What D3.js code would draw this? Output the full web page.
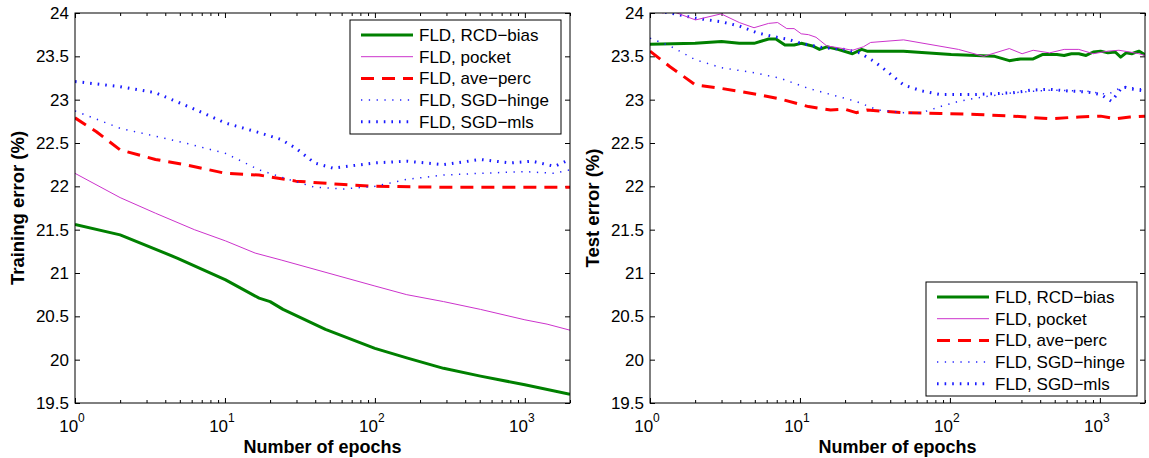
<!DOCTYPE html>
<html lang="en">
<head>
<meta charset="utf-8">
<title>FLD error vs epochs</title>
<script src="https://cdn.jsdelivr.net/npm/d3@7"></script>
<style>
  body { margin: 0; background: #fff; }
  text { font-family: "Liberation Sans", Arial, Helvetica, sans-serif; fill: #000; }
</style>
</head>
<body>
<script>
var W = 1149, H = 458;

// series names shown in the legends
var seriesNames = ["FLD, RCD\u2212bias", "FLD, pocket", "FLD, ave\u2212perc", "FLD, SGD\u2212hinge", "FLD, SGD\u2212mls"];

// axis ticks
var yTicks = [19.5, 20, 20.5, 21, 21.5, 22, 22.5, 23, 23.5, 24];
var xDecades = [1, 10, 100, 1000];

// training error, [epochs, %]
var trainRcdBias = [[1,21.56],[2,21.44],[4.84,21.17],[10.1,20.92],[16.9,20.71],[20,20.67],[24.4,20.58],[46.8,20.35],[100,20.13],[163,20.02],[287,19.9],[506,19.81],[1000,19.71],[2000,19.6]];
var trainPocket = [[1,22.15],[2,21.87],[3.44,21.69],[6.25,21.5],[10.1,21.37],[15.9,21.23],[23.7,21.15],[100,20.85],[163,20.75],[287,20.67],[506,20.58],[1000,20.46],[1406,20.41],[2000,20.34]];
var trainAvePerc = [[1,22.79],[1.39,22.63],[2,22.42],[3.44,22.31],[5.42,22.25],[10.1,22.15],[16.9,22.13],[29.7,22.06],[62,22.02],[100,22.0],[287,21.99],[1000,21.99],[2000,21.99]];
var trainSgdHinge = [[1,22.87],[2,22.67],[5.42,22.5],[10.1,22.38],[16.9,22.19],[26.5,22.08],[39.5,21.99],[62,21.97],[100,22.0],[163,22.08],[287,22.13],[506,22.15],[1000,22.17],[1574,22.15],[2000,22.19]];
var trainSgdMls = [[1,23.21],[2,23.15],[3.44,23.08],[6.07,22.9],[10.1,22.73],[16.9,22.62],[23.7,22.54],[29.7,22.44],[39.5,22.27],[52.4,22.21],[100,22.27],[163,22.29],[287,22.25],[506,22.31],[796,22.27],[1120,22.29],[1574,22.23],[2000,22.31]];

// test error, [epochs, %]
var testRcdBias = [[1,23.64],[2,23.65],[3,23.67],[3.94,23.65],[4.94,23.65],[6.18,23.7],[6.91,23.7],[7.94,23.63],[9.14,23.63],[10.2,23.65],[12.1,23.62],[13.5,23.58],[15.1,23.61],[17.9,23.58],[22.4,23.53],[25.8,23.58],[28,23.56],[49,23.56],[102,23.52],[199,23.5],[249,23.45],[295,23.47],[359,23.47],[413,23.52],[517,23.52],[578,23.51],[646,23.53],[723,23.53],[809,23.51],[904,23.55],[1012,23.56],[1132,23.54],[1266,23.55],[1377,23.49],[1497,23.54],[1630,23.53],[1821,23.56],[2000,23.52]];
var testPocket = [[1,24.06],[1.22,24.0],[1.36,24.03],[2.01,23.92],[2.98,23.99],[3.94,23.89],[4.94,23.83],[6.18,23.88],[7.1,23.89],[8.17,23.82],[9.14,23.82],[10.2,23.76],[11.4,23.75],[12.8,23.72],[15.1,23.62],[17.9,23.6],[22.4,23.57],[26.5,23.61],[29.6,23.66],[49.1,23.69],[114,23.58],[168,23.5],[249,23.59],[303,23.53],[359,23.57],[462,23.54],[578,23.58],[723,23.58],[904,23.53],[1132,23.56],[1339,23.57],[1585,23.55],[1821,23.53],[2000,23.51]];
var testAvePerc = [[1,23.56],[1.36,23.38],[2.01,23.17],[2.98,23.13],[5.22,23.06],[7.31,23.01],[11.4,22.92],[16,22.88],[20,22.89],[23.7,22.85],[28,22.88],[49.1,22.85],[86,22.84],[151,22.83],[264,22.81],[462,22.78],[723,22.8],[1012,22.81],[1266,22.78],[1585,22.8],[2000,22.81]];
var testSgdHinge = [[1,23.71],[1.36,23.62],[2.01,23.46],[2.98,23.37],[4.94,23.31],[7.31,23.25],[11.4,23.13],[16,23.06],[23.7,22.98],[33.2,22.88],[49.1,22.85],[65,22.85],[86,22.92],[114,22.98],[151,23.02],[264,23.08],[462,23.11],[809,23.1],[1132,23.06],[1416,23.15],[2000,23.12]];
var testSgdMls = [[1,24.03],[1.36,24.0],[2.01,23.94],[2.98,23.9],[3.94,23.85],[5.22,23.77],[6.53,23.73],[8.17,23.7],[10.2,23.65],[14.3,23.6],[20,23.58],[25.1,23.54],[31.3,23.44],[39.2,23.31],[49.1,23.17],[65,23.1],[86,23.06],[151,23.06],[264,23.08],[349,23.11],[462,23.12],[611,23.1],[809,23.09],[1012,23.06],[1197,22.98],[1416,23.15],[1675,23.12],[2000,23.1]];

// line styles, same order as seriesNames
var styles = [
    {color: "#008000", width: 3,   dash: null},
    {color: "#cc33cc", width: 1,   dash: null},
    {color: "#ff0000", width: 3,   dash: "13,8"},
    {color: "#2020ff", width: 1.5, dash: "1.3,6.5"},
    {color: "#1a1aff", width: 3,   dash: "1.6,6"}
];

var pw = 495, ph = 390; // plot box size

var svg = d3.select("body").append("svg")
    .attr("width", W)
    .attr("height", H);

var clipId = 0;

function drawPanel(left, top, title, series, legendPos) {
    var g = svg.append("g").attr("transform", "translate(" + left + "," + top + ")");

    var x = d3.scaleLog().domain([1, 2000]).range([0, pw]);
    var y = d3.scaleLinear().domain([19.5, 24]).range([ph, 0]);

    // minor ticks 2..9 per decade
    var minor = [];
    xDecades.forEach(function(d){
        for (var k = 2; k <= 9; k++) if (d * k <= 2000) minor.push(d * k);
    });

    // bottom/top ticks, pointing inward
    g.append("g").attr("transform", "translate(0," + ph + ")")
        .call(d3.axisBottom(x).tickValues(xDecades).tickSizeInner(-5).tickSizeOuter(0).tickFormat(""));
    g.append("g").attr("transform", "translate(0," + ph + ")")
        .call(d3.axisBottom(x).tickValues(minor).tickSizeInner(-3).tickSizeOuter(0).tickFormat(""));
    g.append("g")
        .call(d3.axisTop(x).tickValues(xDecades).tickSizeInner(-5).tickSizeOuter(0).tickFormat(""));
    g.append("g")
        .call(d3.axisTop(x).tickValues(minor).tickSizeInner(-3).tickSizeOuter(0).tickFormat(""));

    // left/right ticks
    g.append("g")
        .call(d3.axisLeft(y).tickValues(yTicks).tickSizeInner(-5).tickSizeOuter(0).tickPadding(6)
              .tickFormat(function(d){ return String(d); }))
        .selectAll("text").style("font-size", "17px")
        .style("font-family", "'Liberation Sans', Arial, sans-serif");
    g.append("g").attr("transform", "translate(" + pw + ",0)")
        .call(d3.axisRight(y).tickValues(yTicks).tickSizeInner(-5).tickSizeOuter(0).tickFormat(""));

    g.selectAll(".domain").remove();
    g.selectAll(".tick line").attr("stroke", "#000");

    // x tick labels 10^n
    var xl = g.append("g").selectAll("text").data(xDecades).enter().append("text")
        .attr("x", function(d){ return x(d) - 3; })
        .attr("y", ph + 29)
        .attr("text-anchor", "middle")
        .style("font-size", "17px");
    xl.append("tspan").text("10");
    xl.append("tspan").attr("dy", -10).style("font-size", "12px")
        .text(function(d){ return Math.round(Math.log10(d)); });

    // lines
    clipId++;
    g.append("clipPath").attr("id", "clip" + clipId)
        .append("rect").attr("width", pw).attr("height", ph);

    var line = d3.line()
        .x(function(d){ return x(d[0]); })
        .y(function(d){ return y(d[1]); });

    var lg = g.append("g").attr("clip-path", "url(#clip" + clipId + ")");
    // draw the thick ones first so thin ones stay visible
    [0, 2, 4, 3, 1].forEach(function(i){
        lg.append("path")
            .datum(series[i])
            .attr("d", line)
            .attr("fill", "none")
            .attr("stroke", styles[i].color)
            .attr("stroke-width", styles[i].width)
            .attr("stroke-dasharray", styles[i].dash)
            .attr("stroke-linejoin", "round");
    });

    // frame
    g.append("rect")
        .attr("width", pw).attr("height", ph)
        .attr("fill", "none").attr("stroke", "#000").attr("stroke-width", 1);

    // axis titles
    g.append("text")
        .attr("x", pw / 2).attr("y", ph + 50)
        .attr("text-anchor", "middle")
        .style("font-size", "18px").style("font-weight", "bold")
        .text("Number of epochs");
    g.append("text")
        .attr("transform", "translate(" + (-51) + "," + (ph / 2) + ") rotate(-90)")
        .attr("text-anchor", "middle")
        .style("font-size", "18.5px").style("font-weight", "bold")
        .text(title);

    // legend
    var leg = g.append("g").attr("transform", "translate(" + legendPos[0] + "," + legendPos[1] + ")");
    leg.append("rect")
        .attr("width", 211).attr("height", 114)
        .attr("fill", "#fff").attr("stroke", "#000").attr("stroke-width", 1);
    var rows = leg.selectAll("g.row").data(seriesNames).enter().append("g")
        .attr("class", "row")
        .attr("transform", function(d, i){ return "translate(0," + (15 + i * 21.7) + ")"; });
    rows.append("line")
        .attr("x1", 11).attr("x2", 63)
        .attr("stroke", function(d, i){ return styles[i].color; })
        .attr("stroke-width", function(d, i){ return styles[i].width; })
        .attr("stroke-dasharray", function(d, i){ return styles[i].dash; });
    rows.append("text")
        .attr("x", 69).attr("y", 6)
        .style("font-size", "17px")
        .text(function(d){ return d; });
}

drawPanel(75, 13, "Training error (%)",
    [trainRcdBias, trainPocket, trainAvePerc, trainSgdHinge, trainSgdMls], [275, 7]);
drawPanel(650, 13, "Test error (%)",
    [testRcdBias, testPocket, testAvePerc, testSgdHinge, testSgdMls], [276, 269]);
</script>
</body>
</html>
